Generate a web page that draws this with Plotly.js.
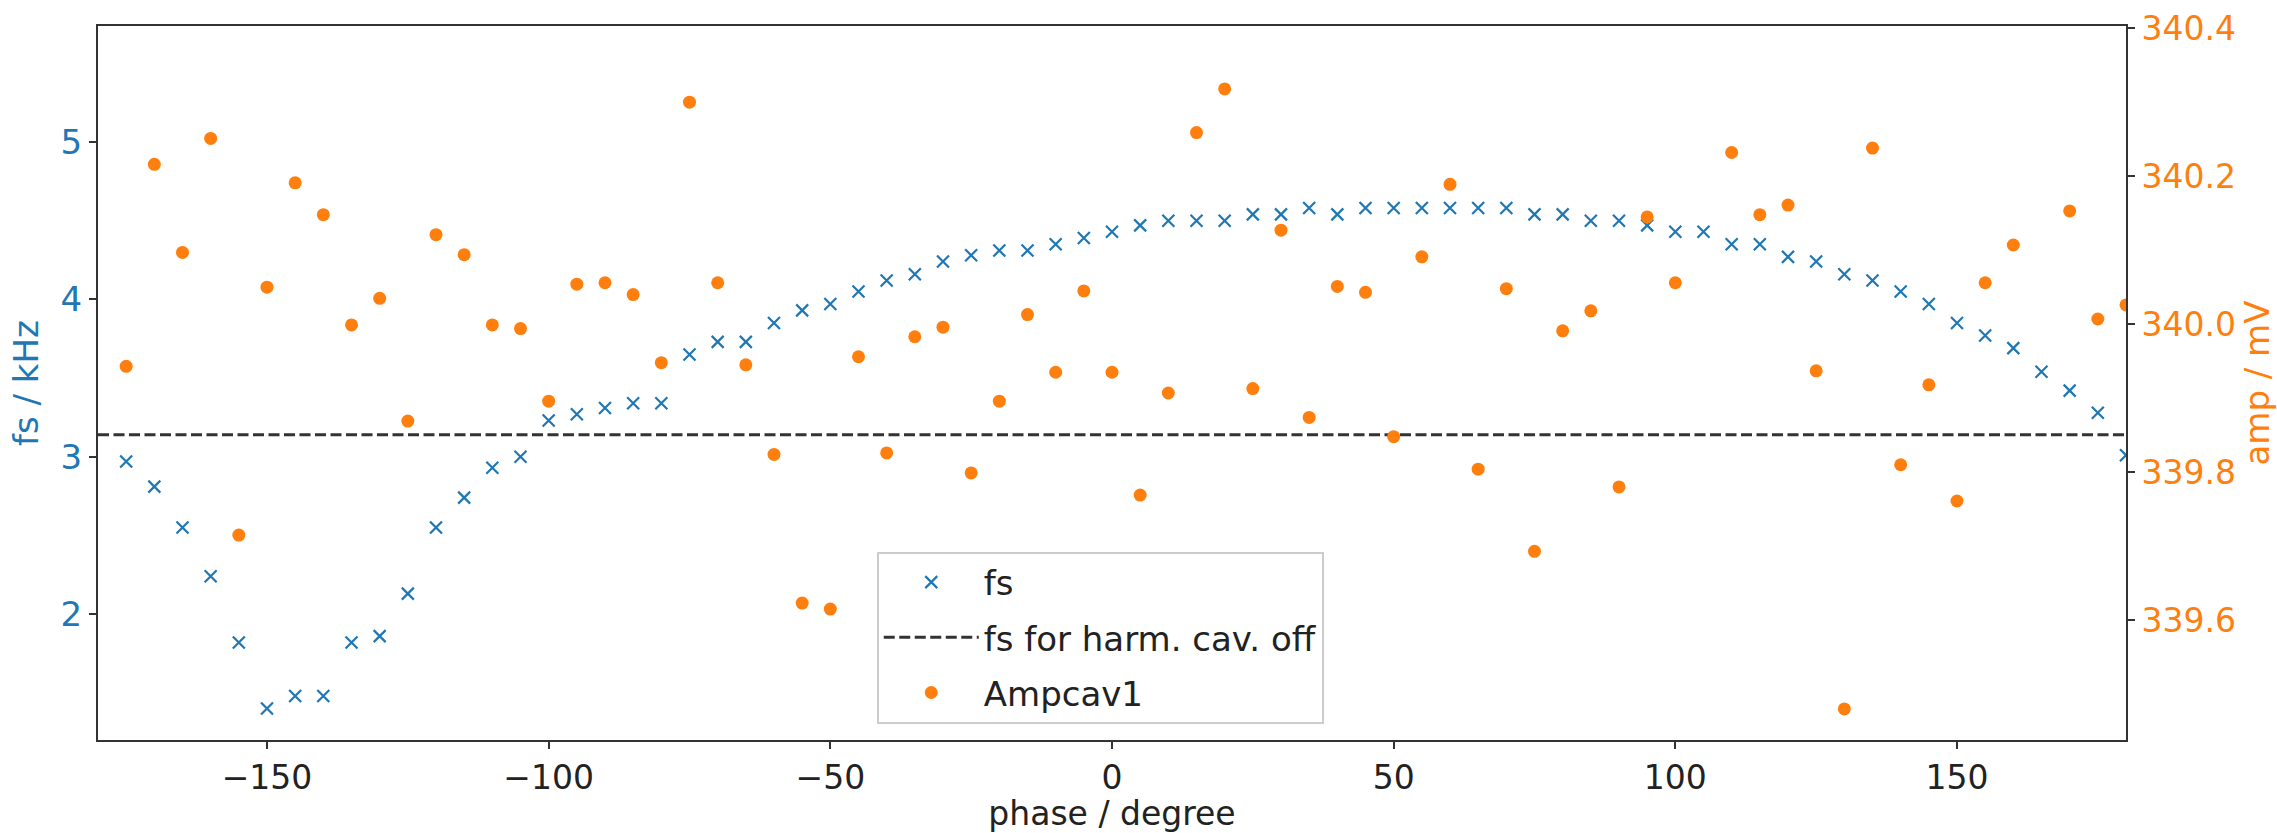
<!DOCTYPE html>
<html><head><meta charset="utf-8">
<script src="https://cdn.plot.ly/plotly-3.0.1.min.js"></script>
<style>html,body{margin:0;padding:0;background:#fff}</style>
</head><body><div id="chart" style="width:2277px;height:833px"></div>
<script>
const phase = [-175,-170,-165,-160,-155,-150,-145,-140,-135,-130,-125,-120,-115,-110,-105,-100,-95,-90,-85,-80,-75,-70,-65,-60,-55,-50,-45,-40,-35,-30,-25,-20,-15,-10,-5,0,5,10,15,20,25,30,35,40,45,50,55,60,65,70,75,80,85,90,95,100,105,110,115,120,125,130,135,140,145,150,155,160,165,170,175,180];
const fs = [2.97,2.81,2.55,2.24,1.82,1.40,1.48,1.48,1.82,1.86,2.13,2.55,2.74,2.93,3.00,3.23,3.27,3.31,3.34,3.34,3.65,3.73,3.73,3.85,3.93,3.97,4.05,4.12,4.16,4.24,4.28,4.31,4.31,4.35,4.39,4.43,4.47,4.50,4.50,4.50,4.54,4.54,4.58,4.54,4.58,4.58,4.58,4.58,4.58,4.58,4.54,4.54,4.50,4.50,4.47,4.43,4.43,4.35,4.35,4.27,4.24,4.16,4.12,4.05,3.97,3.85,3.77,3.69,3.54,3.42,3.28,3.01];
const ampcav1 = [339.943,340.216,340.097,340.251,339.715,340.050,340.191,340.148,339.999,340.035,339.869,340.121,340.094,339.999,339.994,339.896,340.054,340.056,340.040,339.948,340.300,340.056,339.945,339.824,339.623,339.615,339.956,339.826,339.983,339.996,339.799,339.896,340.013,339.935,340.045,339.935,339.769,339.907,340.259,340.318,339.913,340.127,339.874,340.051,340.043,339.848,340.091,340.189,339.804,340.048,339.693,339.991,340.018,339.780,340.145,340.056,null,340.232,340.148,340.161,339.937,339.480,340.238,339.810,339.918,339.761,340.056,340.107,null,340.153,340.007,340.026];
const fsHarmOff = 3.14;
const xRange = [-180, 180];
const fsRange = [1.2, 5.737];
const ampRange = [339.438, 340.403];
const xTickVals = [-150,-100,-50,0,50,100,150];
const fsTickVals = [2,3,4,5];
const ampTickVals = [339.6,339.8,340.0,340.2,340.4];

const BLUE = '#1f77b4', ORANGE = '#ff7f0e', AX = '#333333';
const FONT = 'DejaVu Sans, sans-serif';

const traces = [
  {x: phase, y: fs, type: 'scatter', mode: 'markers', name: 'fs', legendgroup: 'a',
   marker: {symbol: 'x-thin', size: 12, color: BLUE, line: {width: 2.2, color: BLUE}},
   xaxis: 'x', yaxis: 'y'},
  {x: xRange, y: [fsHarmOff, fsHarmOff], type: 'scatter', mode: 'lines', name: 'fs for harm. cav. off', legendgroup: 'b',
   line: {color: AX, width: 3, dash: '11px,4.5px'}, xaxis: 'x', yaxis: 'y'},
  {x: phase, y: ampcav1, type: 'scatter', mode: 'markers', name: 'Ampcav1', legendgroup: 'c',
   marker: {symbol: 'circle', size: 13, color: ORANGE}, xaxis: 'x', yaxis: 'y2'}
];

const layout = {
  width: 2277, height: 833,
  paper_bgcolor: '#fff', plot_bgcolor: '#fff',
  font: {family: FONT, size: 33, color: '#222'},
  margin: {l: 97.5, r: 151, t: 26, b: 93, pad: 0},
  showlegend: true,
  legend: {x: 0.384, y: 0.264, xanchor: 'left', yanchor: 'top', bgcolor: 'rgba(255,255,255,0.9)',
           bordercolor: '#cccccc', borderwidth: 2, font: {family: FONT, size: 34, color: '#222'},
           traceorder: 'grouped', tracegroupgap: 8, itemwidth: 95},
  xaxis: {range: xRange, tickvals: xTickVals, ticks: 'outside', ticklen: 7, tickwidth: 2, tickcolor: AX,
          showline: true, mirror: true, linecolor: AX, linewidth: 2, showgrid: false, zeroline: false,
          tickfont: {family: FONT, size: 33, color: '#222'},
          title: {text: 'phase / degree', font: {family: FONT, size: 33, color: '#222'}, standoff: 9},
          automargin: false},
  yaxis: {range: fsRange, tickvals: fsTickVals, ticks: 'outside', ticklen: 7, tickwidth: 2, tickcolor: AX,
          showline: true, linecolor: AX, linewidth: 2, showgrid: false, zeroline: false,
          tickfont: {family: FONT, size: 34, color: BLUE},
          title: {text: 'fs / kHz', font: {family: FONT, size: 34, color: BLUE}, standoff: 12},
          automargin: false},
  yaxis2: {range: ampRange, tickvals: ampTickVals, tickformat: '.1f', overlaying: 'y', side: 'right',
           ticks: 'outside', ticklen: 7, tickwidth: 2, tickcolor: AX,
           showline: true, linecolor: AX, linewidth: 2, showgrid: false, zeroline: false,
           tickfont: {family: FONT, size: 33, color: ORANGE},
           title: {text: 'amp / mV', font: {family: FONT, size: 34, color: ORANGE}, standoff: 10},
           automargin: false}
};

Plotly.newPlot('chart', traces, layout, {displayModeBar: false, staticPlot: true});
</script>
</body></html>
